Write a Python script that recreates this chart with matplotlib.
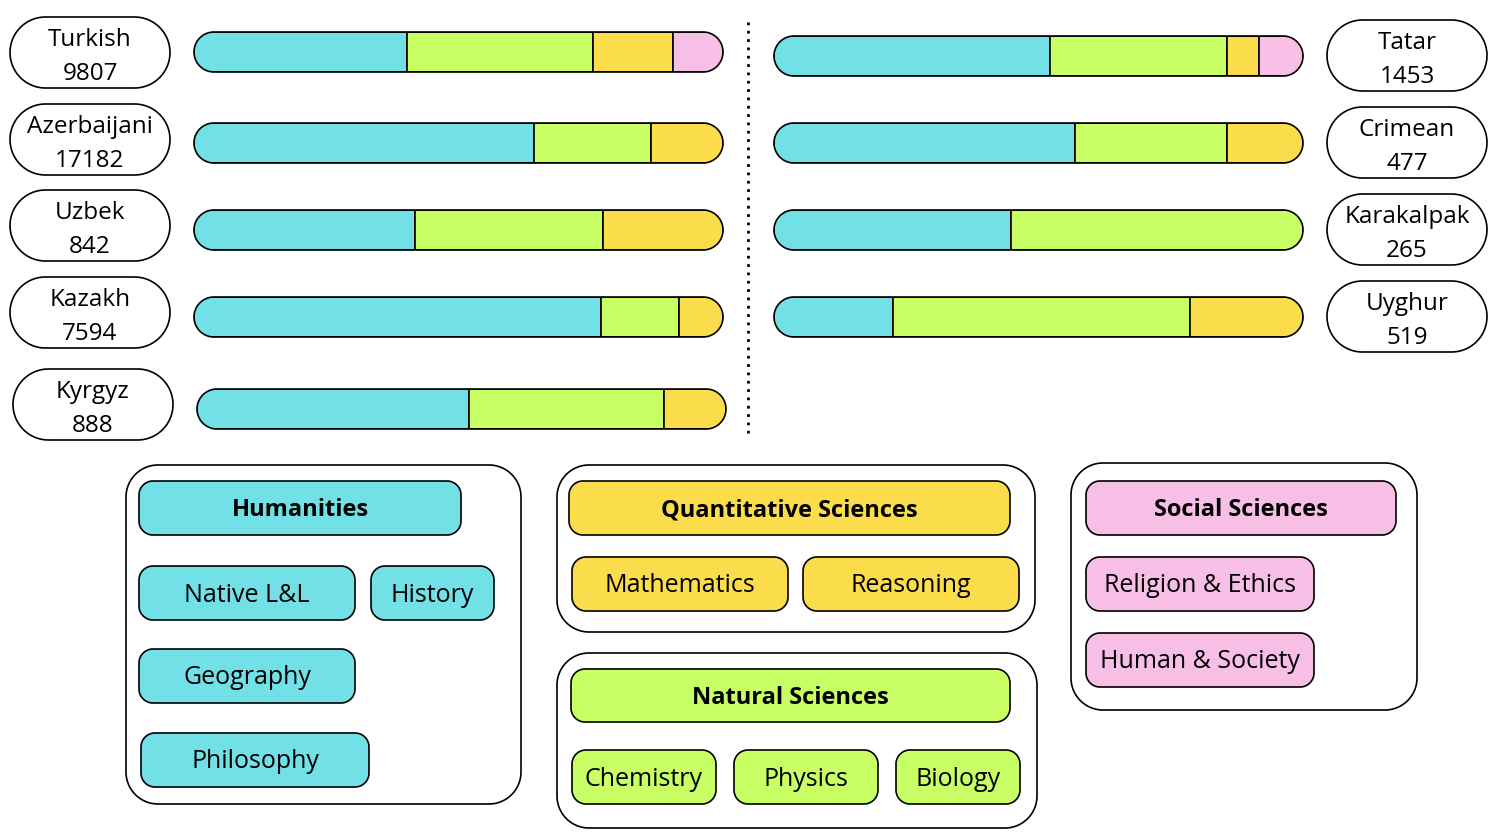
import matplotlib
matplotlib.use("Agg")
import numpy as np
import matplotlib.pyplot as plt
from matplotlib.patches import Polygon, Rectangle

plt.rcParams['font.family'] = ['Open Sans', 'DejaVu Sans']

# categories (order of the bar segments)
categories = ["Humanities", "Natural Sciences", "Quantitative Sciences", "Social Sciences"]
cat_colors = ["#71e0e7", "#c8ff64", "#fbdc4b", "#f8bfe6"]

# left column
left_langs = ["Turkish", "Azerbaijani", "Uzbek", "Kazakh", "Kyrgyz"]
left_counts = [9807, 17182, 842, 7594, 888]
left_shares = [
    [40.3, 35.2, 15.1, 9.4],
    [64.3, 22.1, 13.6, 0],
    [41.8, 35.5, 22.7, 0],
    [76.9, 14.7, 8.3, 0],
    [51.4, 36.9, 11.7, 0],
]

# right column
right_langs = ["Tatar", "Crimean", "Karakalpak", "Uyghur"]
right_counts = [1453, 477, 265, 519]
right_shares = [
    [52.2, 33.5, 6.0, 8.3],
    [56.9, 28.7, 14.4, 0],
    [44.8, 55.2, 0, 0],
    [22.5, 56.1, 21.4, 0],
]

# subjects per category for the legend
hum_subjects = ["Native L&L", "History", "Geography", "Philosophy"]
quant_subjects = ["Mathematics", "Reasoning"]
nat_subjects = ["Chemistry", "Physics", "Biology"]
soc_subjects = ["Religion & Ethics", "Human & Society"]

W, H = 1494, 836
fig = plt.figure(figsize=(W / 100, H / 100), dpi=100)
ax = fig.add_axes([0, 0, 1, 1])
ax.set_xlim(0, W)
ax.set_ylim(H, 0)
ax.axis('off')

LW = 1.2


def rbox(x0, y0, x1, y1, r, fc="white", ec="black", z=1, lw=LW):
    # rounded rectangle with real circular corners
    r = min(r, (x1 - x0) / 2, (y1 - y0) / 2)
    pts = []
    corners = [(x1 - r, y1 - r, 0), (x0 + r, y1 - r, 90),
               (x0 + r, y0 + r, 180), (x1 - r, y0 + r, 270)]
    for cx, cy, a0 in corners:
        t = np.radians(np.linspace(a0, a0 + 90, 30))
        pts += list(zip(cx + r * np.cos(t), cy + r * np.sin(t)))
    p = Polygon(pts, closed=True, fc=fc, ec=ec, lw=lw, zorder=z)
    ax.add_patch(p)
    return p


def stacked_bar(x0, y0, x1, y1, shares):
    h = y1 - y0
    clip = rbox(x0, y0, x1, y1, h / 2, fc="white", ec="none", z=1)
    total = sum(shares)
    cur = x0
    for s, c in zip(shares, cat_colors):
        if s <= 0:
            continue
        w = (x1 - x0) * s / total
        seg = Rectangle((cur, y0), w, h, fc=c, ec="black", lw=LW, zorder=2)
        ax.add_patch(seg)
        seg.set_clip_path(clip)
        cur += w
    rbox(x0, y0, x1, y1, h / 2, fc="none", ec="black", z=3)


def label_pill(x0, y0, x1, y1, name, count):
    rbox(x0, y0, x1, y1, (y1 - y0) / 2)
    cx = (x0 + x1) / 2
    ax.text(cx, y0 + 23, name, ha="center", va="center", fontsize=17.5, zorder=4)
    ax.text(cx, y0 + 57, str(count), ha="center", va="center", fontsize=17.5, zorder=4)


def chip(x0, y0, x1, y1, txt, color, bold=False):
    rbox(x0, y0, x1, y1, 14, fc=color, z=3)
    ax.text((x0 + x1) / 2, (y0 + y1) / 2 + 2, txt, ha="center", va="center",
            fontsize=17 if bold else 18, fontweight="bold" if bold else "normal", zorder=4)


# left bars
left_bar_y = [32, 123, 210, 297, 389]
left_lab_y = [17, 104, 190, 277, 369]
for i, (lang, cnt, sh) in enumerate(zip(left_langs, left_counts, left_shares)):
    dx = 3 if i == 4 else 0
    stacked_bar(194 + dx, left_bar_y[i], 723 + dx, left_bar_y[i] + 40, sh)
    label_pill(10 + dx, left_lab_y[i], 170 + dx, left_lab_y[i] + 71, lang, cnt)

# right bars
right_bar_y = [36, 123, 210, 297]
right_lab_y = [20, 107, 194, 281]
for i, (lang, cnt, sh) in enumerate(zip(right_langs, right_counts, right_shares)):
    stacked_bar(774, right_bar_y[i], 1303, right_bar_y[i] + 40, sh)
    label_pill(1327, right_lab_y[i], 1487, right_lab_y[i] + 71, lang, cnt)

# dotted divider
ax.plot([748, 748], [22, 433], color="black", lw=2, ls=(0, (1, 2)), zorder=2)

# legend: humanities
rbox(126, 465, 521, 804, 32)
chip(139, 481, 461, 535, categories[0], cat_colors[0], bold=True)
chip(139, 566, 355, 620, hum_subjects[0], cat_colors[0])
chip(371, 566, 494, 620, hum_subjects[1], cat_colors[0])
chip(139, 649, 355, 703, hum_subjects[2], cat_colors[0])
chip(141, 733, 369, 787, hum_subjects[3], cat_colors[0])

# legend: quantitative
rbox(557, 465, 1035, 632, 32)
chip(569, 481, 1010, 535, categories[2], cat_colors[2], bold=True)
chip(572, 557, 788, 611, quant_subjects[0], cat_colors[2])
chip(803, 557, 1019, 611, quant_subjects[1], cat_colors[2])

# legend: natural
rbox(557, 653, 1037, 828, 32)
chip(571, 669, 1010, 722, categories[1], cat_colors[1], bold=True)
chip(572, 750, 716, 804, nat_subjects[0], cat_colors[1])
chip(734, 750, 878, 804, nat_subjects[1], cat_colors[1])
chip(896, 750, 1020, 804, nat_subjects[2], cat_colors[1])

# legend: social
rbox(1071, 463, 1417, 710, 32)
chip(1086, 481, 1396, 535, categories[3], cat_colors[3], bold=True)
chip(1086, 557, 1314, 611, soc_subjects[0], cat_colors[3])
chip(1086, 633, 1314, 687, soc_subjects[1], cat_colors[3])

fig.savefig("out.png", dpi=100, facecolor="white")
